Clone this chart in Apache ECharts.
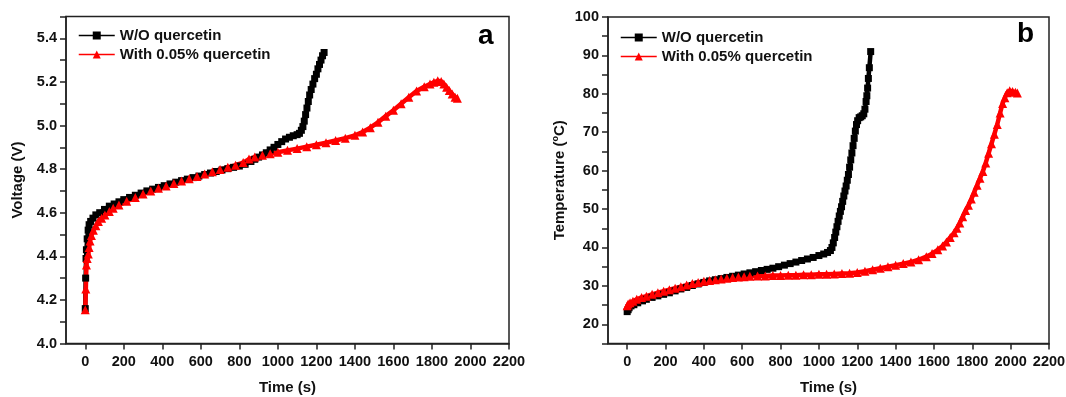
<!DOCTYPE html>
<html>
<head>
<meta charset="utf-8">
<title>Overcharge voltage and temperature</title>
<script src="https://cdn.jsdelivr.net/npm/echarts@6/dist/echarts.min.js"></script>
<style>
  html, body { margin: 0; padding: 0; background: #fff; }
  #chart { width: 1066px; height: 397px; }
</style>
</head>
<body>
<div id="chart"></div>
<script>
// Series labels
const seriesNames = ['W/O quercetin', 'With 0.05% quercetin'];

// Shared time-axis tick labels (s)
const timeTicks = [0, 200, 400, 600, 800, 1000, 1200, 1400, 1600, 1800, 2000, 2200];

// (a) Cell voltage during overcharge, [time (s), voltage (V)]
const voltagePlain = [
  [0, 4.16], [2, 4.30], [4, 4.39], [6, 4.43], [10, 4.48], [15, 4.52], [20, 4.545], [28, 4.56],
  [40, 4.575], [55, 4.59], [75, 4.60], [100, 4.615], [125, 4.63], [150, 4.64], [175, 4.65],
  [200, 4.66], [230, 4.67], [260, 4.68], [290, 4.69], [320, 4.70], [350, 4.708], [380, 4.716],
  [410, 4.724], [440, 4.732], [470, 4.74], [500, 4.747], [530, 4.754], [560, 4.761], [590, 4.768],
  [620, 4.775], [650, 4.782], [680, 4.789], [710, 4.796], [740, 4.802], [770, 4.808], [800, 4.814],
  [830, 4.822], [860, 4.835], [880, 4.845], [900, 4.855], [920, 4.865], [940, 4.875], [960, 4.888],
  [980, 4.90], [1000, 4.913], [1020, 4.926], [1040, 4.938], [1060, 4.946], [1080, 4.953],
  [1100, 4.958], [1112, 4.964], [1122, 4.978], [1130, 4.995], [1137, 5.02], [1144, 5.05],
  [1151, 5.08], [1158, 5.11], [1165, 5.14], [1173, 5.165], [1182, 5.19], [1191, 5.215],
  [1200, 5.235], [1208, 5.26], [1216, 5.28], [1224, 5.30], [1232, 5.32], [1240, 5.335]
];
const voltageQuercetin = [
  [0, 4.155], [3, 4.25], [6, 4.36], [10, 4.39], [16, 4.41], [20, 4.44], [25, 4.47], [32, 4.495],
  [42, 4.52], [55, 4.54], [68, 4.56], [85, 4.575], [102, 4.59], [125, 4.605], [145, 4.62],
  [175, 4.635], [215, 4.652], [260, 4.67], [300, 4.686], [340, 4.70], [380, 4.712], [420, 4.723],
  [460, 4.734], [500, 4.745], [540, 4.756], [580, 4.766], [620, 4.777], [660, 4.788], [700, 4.798],
  [740, 4.808], [780, 4.818], [820, 4.83], [850, 4.846], [880, 4.855], [920, 4.863], [960, 4.87],
  [1000, 4.877], [1050, 4.886], [1100, 4.894], [1150, 4.903], [1200, 4.912], [1250, 4.921],
  [1300, 4.931], [1350, 4.942], [1400, 4.955], [1440, 4.97], [1480, 4.99], [1520, 5.015],
  [1560, 5.043], [1600, 5.07], [1640, 5.10], [1680, 5.13], [1720, 5.158], [1760, 5.178],
  [1790, 5.19], [1810, 5.198], [1830, 5.205], [1848, 5.202], [1862, 5.19], [1876, 5.175],
  [1890, 5.16], [1905, 5.145], [1920, 5.13], [1932, 5.125]
];

// (b) Cell surface temperature during overcharge, [time (s), temperature (°C)]
const temperaturePlain = [
  [0, 23.3], [5, 23.8], [10, 24.3], [20, 24.8], [35, 25.1], [55, 25.6], [80, 26.1], [100, 26.5],
  [130, 27.0], [160, 27.4], [190, 27.8], [220, 28.2], [250, 28.7], [280, 29.2], [310, 29.6],
  [340, 30.1], [370, 30.5], [400, 30.9], [430, 31.3], [460, 31.6], [490, 31.9], [520, 32.2],
  [550, 32.5], [580, 32.8], [610, 33.1], [640, 33.4], [670, 33.7], [700, 34.0], [730, 34.3],
  [760, 34.6], [790, 35.0], [820, 35.4], [850, 35.8], [880, 36.2], [910, 36.6], [940, 37.0],
  [970, 37.4], [1000, 37.9], [1025, 38.3], [1045, 38.7], [1060, 39.2], [1068, 40.0], [1075, 41.2],
  [1082, 42.6], [1088, 44.0], [1094, 45.4], [1100, 46.8], [1106, 48.2], [1112, 49.4], [1118, 50.6],
  [1124, 52.0], [1130, 53.4], [1136, 54.7], [1142, 56.0], [1148, 57.5], [1154, 59.0], [1160, 60.9],
  [1166, 62.8], [1172, 64.6], [1178, 66.5], [1184, 68.4], [1190, 70.3], [1196, 72.0], [1202, 73.0],
  [1210, 73.8], [1218, 74.0], [1226, 74.3], [1234, 74.8], [1240, 76.0], [1246, 78.0], [1250, 79.5],
  [1254, 81.5], [1258, 84.0], [1263, 86.8], [1270, 91.0]
];
const temperatureQuercetin = [
  [0, 24.8], [5, 25.3], [15, 25.6], [30, 26.0], [50, 26.5], [75, 27.0], [100, 27.3], [130, 27.8],
  [160, 28.2], [190, 28.6], [220, 29.0], [250, 29.4], [280, 29.8], [310, 30.2], [340, 30.6],
  [370, 30.9], [400, 31.2], [430, 31.4], [460, 31.6], [490, 31.8], [520, 32.0], [550, 32.2],
  [580, 32.3], [610, 32.4], [640, 32.5], [680, 32.6], [720, 32.6], [760, 32.7], [800, 32.7],
  [840, 32.8], [880, 32.8], [920, 32.9], [960, 32.9], [1000, 33.0], [1040, 33.0], [1080, 33.1],
  [1120, 33.2], [1160, 33.3], [1200, 33.5], [1240, 33.8], [1280, 34.2], [1320, 34.6], [1360, 35.0],
  [1400, 35.4], [1440, 35.8], [1480, 36.2], [1520, 36.8], [1560, 37.6], [1590, 38.4], [1620, 39.4],
  [1645, 40.4], [1665, 41.4], [1685, 42.6], [1705, 43.8], [1720, 45.0], [1735, 46.4], [1750, 48.0],
  [1765, 49.6], [1780, 51.0], [1795, 52.6], [1810, 54.4], [1825, 56.2], [1840, 58.0], [1855, 59.8],
  [1870, 62.0], [1885, 64.5], [1900, 67.0], [1915, 69.5], [1930, 72.0], [1945, 75.0], [1958, 77.5],
  [1970, 79.0], [1982, 80.3], [1995, 80.8], [2010, 80.6], [2025, 80.4], [2035, 80.2]
];

const FONT = '"Liberation Sans", Arial, Helvetica, sans-serif';
const AXIS_COLOR = '#222';
const TEXT_COLOR = '#111';

function timeAxis(gridIndex) {
  return {
    type: 'value', gridIndex: gridIndex,
    min: -100, max: 2200, interval: 100,
    name: 'Time (s)', nameLocation: 'middle', nameGap: 37,
    nameTextStyle: { fontFamily: FONT, fontWeight: 'bold', fontSize: 15, color: TEXT_COLOR },
    axisLine: { show: true, onZero: false, lineStyle: { color: AXIS_COLOR, width: 1.5 } },
    axisTick: { show: true, inside: false, length: 6, customValues: timeTicks,
                lineStyle: { color: AXIS_COLOR, width: 1.5 } },
    axisLabel: { customValues: timeTicks, margin: 11, fontFamily: FONT, fontWeight: 'bold',
                 fontSize: 14.5, color: TEXT_COLOR,
                 formatter: function (v) { return String(Math.round(v)); } },
    splitLine: { show: false }
  };
}

function valueAxis(gridIndex, min, max, step, labelEvery, decimals, nameCfg) {
  return Object.assign({
    type: 'value', gridIndex: gridIndex,
    min: min, max: max, interval: step,
    nameLocation: 'middle',
    axisLine: { show: true, onZero: false, lineStyle: { color: AXIS_COLOR, width: 1.5 } },
    axisTick: { show: true, inside: false, length: 6, lineStyle: { color: AXIS_COLOR, width: 1.5 } },
    axisLabel: {
      margin: 9, fontFamily: FONT, fontWeight: 'bold', fontSize: 14.5, color: TEXT_COLOR,
      formatter: function (v) {
        const k = Math.round(v / step);
        if (k % labelEvery !== 0) return '';
        return v.toFixed(decimals);
      }
    },
    splitLine: { show: false }
  }, nameCfg);
}

function curve(name, data, xi, yi, symbol, size, color) {
  return {
    name: name, type: 'line', xAxisIndex: xi, yAxisIndex: yi,
    data: data, symbol: symbol, symbolSize: size, showSymbol: true,
    lineStyle: { color: color, width: 4.5 },
    itemStyle: { color: color },
    animation: false, z: 3
  };
}

function legendAt(left, top) {
  return {
    orient: 'vertical', left: left, top: top, itemGap: 4,
    itemWidth: 36, itemHeight: 10, selectedMode: false,
    data: seriesNames,
    lineStyle: { width: 1.5 },
    textStyle: { fontFamily: FONT, fontWeight: 'bold', fontSize: 15, color: TEXT_COLOR }
  };
}

function gridAt(left, top, width, height) {
  return {
    left: left, top: top, width: width, height: height,
    outerBoundsMode: 'none', containLabel: false,
    show: true, borderColor: AXIS_COLOR, borderWidth: 1.5, backgroundColor: 'transparent'
  };
}

const chart = echarts.init(document.getElementById('chart'), null, { renderer: 'canvas' });

chart.setOption({
  backgroundColor: '#fff',
  animation: false,
  grid: [gridAt(66, 16.5, 443, 327), gridAt(608, 17, 441, 326.5)],
  legend: [legendAt(73, 23), legendAt(615, 25)],
  xAxis: [timeAxis(0), timeAxis(1)],
  yAxis: [
    valueAxis(0, 4.0, 5.5, 0.1, 2, 1, {
      name: 'Voltage (V)', nameGap: 41,
      nameTextStyle: { fontFamily: FONT, fontWeight: 'bold', fontSize: 15, color: TEXT_COLOR }
    }),
    valueAxis(1, 15, 100, 5, 2, 0, {
      name: '{t|Temperature (}{s|o}{t|C)}', nameGap: 40,
      nameTextStyle: {
        rich: {
          t: { fontFamily: FONT, fontWeight: 'bold', fontSize: 15, color: TEXT_COLOR },
          s: { fontFamily: FONT, fontWeight: 'bold', fontSize: 9, color: TEXT_COLOR, padding: [0, 0, 8, 0] }
        }
      }
    })
  ],
  series: [
    curve(seriesNames[0], voltagePlain, 0, 0, 'rect', 7, '#000'),
    curve(seriesNames[1], voltageQuercetin, 0, 0, 'triangle', 9, '#ff0000'),
    curve(seriesNames[0], temperaturePlain, 1, 1, 'rect', 7, '#000'),
    curve(seriesNames[1], temperatureQuercetin, 1, 1, 'triangle', 9, '#ff0000')
  ],
  graphic: [
    { type: 'text', left: 478, top: 22, style: { text: 'a', fontFamily: FONT, fontWeight: 'bold', fontSize: 28, fill: '#000' } },
    { type: 'text', left: 1017, top: 20, style: { text: 'b', fontFamily: FONT, fontWeight: 'bold', fontSize: 28, fill: '#000' } }
  ]
});
</script>
</body>
</html>
